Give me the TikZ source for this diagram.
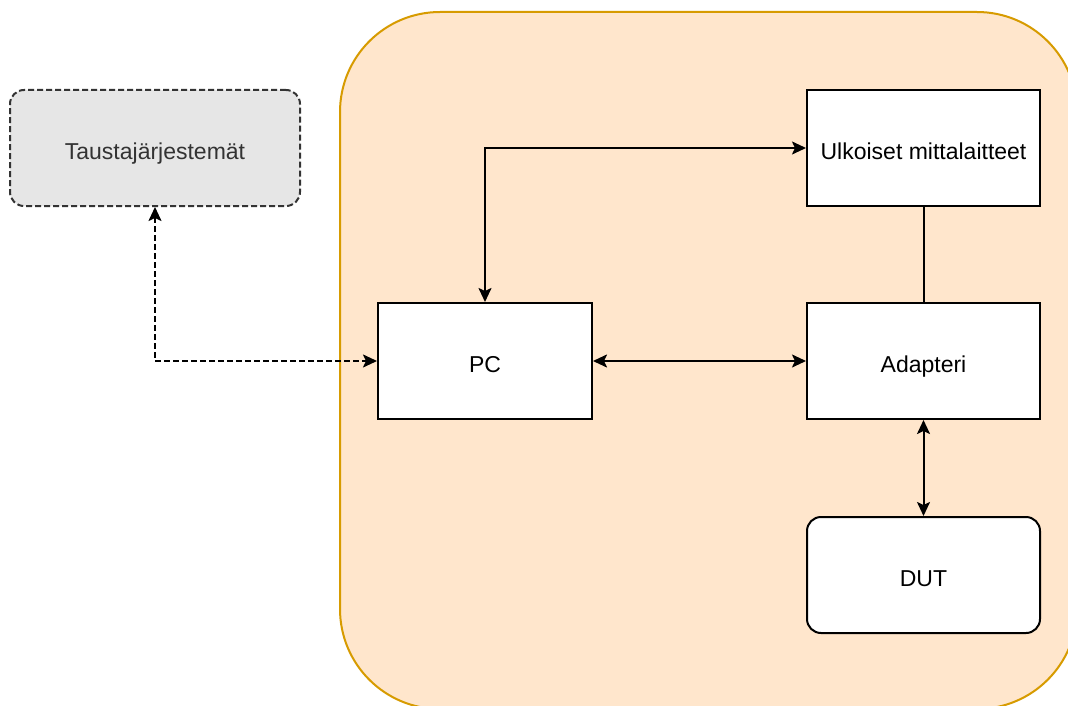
\documentclass[tikz,border=0pt]{standalone}
\usepackage{fontspec}
\setmainfont{Liberation Sans}
\usetikzlibrary{arrows.meta}
\definecolor{peach}{HTML}{FFE6CC}
\definecolor{peachline}{HTML}{D79B00}
\definecolor{greybox}{HTML}{E6E6E6}
\definecolor{greyline}{HTML}{333333}
\tikzset{
  unit/.style={draw=black, fill=white, line width=2pt, minimum width=233pt,
    minimum height=116pt, inner sep=0pt, text height=22pt, text depth=0pt,
    font=\fontsize{23}{27}\selectfont},
  dutbox/.style={unit, rounded corners=14pt},
  extbox/.style={unit, draw=greyline, fill=greybox, dash pattern=on 6pt off 3pt,
    rounded corners=14pt, minimum width=290pt, text=greyline},
  link/.style={line width=2pt, {Stealth[length=14pt,width=13pt,inset=3pt]}-{Stealth[length=14pt,width=13pt,inset=3pt]}}
}
\begin{document}
\begin{tikzpicture}[x=1pt,y=-1pt]
  %%%%% background and test bench %%%%%
  \clip (0,0) rectangle (1068,706);
  \fill[white] (0,0) rectangle (1068,706);
  \draw[line width=2pt, draw=peachline, fill=peach, rounded corners=100pt]
    (340,12) rectangle (1077,709);

  %%%%% boxes %%%%%
  \node[extbox] (tausta) at (155,148) {Taustajärjestemät};
  \node[unit, minimum width=214pt] (pc) at (485,361) {PC};
  \node[unit] (ulkoiset) at (923.5,148) {Ulkoiset mittalaitteet};
  \node[unit] (adapteri) at (923.5,361) {Adapteri};
  \node[dutbox] (dut) at (923.5,575) {DUT};

  %%%%% links %%%%%
  \draw[link, dash pattern=on 6pt off 3pt] (tausta.south) |- (pc.west);
  \draw[link] (pc.north) |- (ulkoiset.west);
  \draw[link] (pc.east) -- (adapteri.west);
  \draw[line width=2pt] (ulkoiset.south) -- (adapteri.north);
  \draw[link] (adapteri.south) -- (dut.north);
\end{tikzpicture}
\end{document}
